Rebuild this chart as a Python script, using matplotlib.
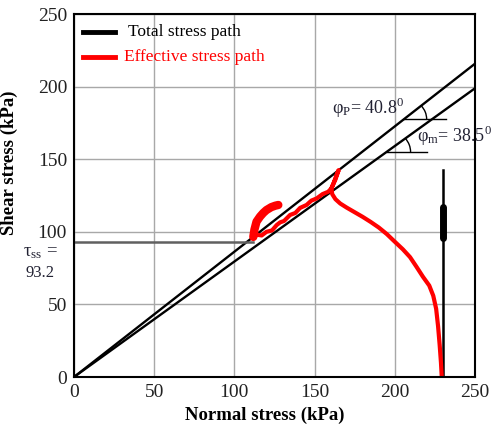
import numpy as np
import matplotlib.pyplot as plt
from matplotlib.patches import Arc

# friction angles (deg) and steady-state shear stress
phi_p = 40.8
phi_m = 38.5
tau_ss = 93.2

# effective stress path (normal stress, shear stress) in kPa
eff_sigma = [229.3, 228.8, 228.0, 227.0, 225.8, 224.0, 221.5, 217.6, 213.5, 209.5,
             205.0, 200.0, 195.0, 190.0, 185.0, 180.0, 175.0, 170.0, 166.0, 163.0,
             161.0, 160.5, 162.0, 163.5, 165.0, 163.0, 160.5, 158.5, 155.0, 151.3,
             148.0, 145.0, 141.0, 138.0, 134.7, 131.0, 128.5, 126.4, 123.5, 120.0,
             117.0, 114.0, 111.8]
eff_tau = [0, 10, 22, 35, 47, 56, 63, 69, 76, 82.6,
           88, 93.2, 98.5, 103, 106.8, 110.3, 113.5, 116.7, 119.5, 122.5,
           126, 130, 134, 138.5, 142.5, 136, 130, 127.6, 126, 123,
           121.5, 118.5, 116.5, 113, 111.6, 107.5, 106.5, 104.7, 101, 100,
           97.5, 98, 95.5]

# dense loop of the effective path at the start of shearing
loop_sigma = [111.8, 112.5, 113.8, 116.0, 118.0, 120.0, 123.0, 125.5, 127.4]
loop_tau = [96.5, 101.5, 107.0, 110.5, 113.0, 115.0, 117.0, 118.0, 118.5]

# total stress path
tot_sigma = [230, 230, 230, 230, 230]
tot_tau = [0, 60, 95, 118, 142.6]
blob_tau = [96, 117]

fig = plt.figure(figsize=(4.95, 4.26), dpi=100)
ax = fig.add_axes([0.1495, 0.115, 0.81, 0.852])
plt.rcParams['font.family'] = ['Liberation Serif', 'DejaVu Serif']

ax.set_xlim(0, 250)
ax.set_ylim(0, 250)
ax.set_xticks(range(0, 251, 50))
ax.set_yticks(range(0, 251, 50))
ax.grid(True, color='#a8a8a8', lw=1)
ax.set_axisbelow(True)
for s in ax.spines.values():
    s.set_linewidth(1.5)
ax.tick_params(length=0, labelsize=14, pad=5, labelcolor='#222222')
for lbl in ax.get_xticklabels() + ax.get_yticklabels():
    lbl.set_family('Liberation Serif')

# failure envelopes
xs = np.array([0, 250])
ax.plot(xs, xs * np.tan(np.radians(phi_p)), color='black', lw=1.7)
ax.plot(xs, xs * np.tan(np.radians(phi_m)), color='black', lw=1.7)

# steady state line
ax.plot([0, 111.5], [tau_ss, tau_ss], color='#606060', lw=1.8)

# angle markers
y1 = 177.7
x1 = y1 / np.tan(np.radians(phi_p))
ax.plot([x1, 232], [y1, y1], color='black', lw=1)
y2 = 155
x2 = y2 / np.tan(np.radians(phi_m))
ax.plot([x2, 220], [y2, y2], color='black', lw=1)
ax.add_patch(Arc((x1, y1), 28, 28, theta1=0, theta2=phi_p, color='black', lw=1))
ax.add_patch(Arc((x2, y2), 30, 30, theta1=0, theta2=phi_m, color='black', lw=1))

ax.text(161, 185, r'$\mathregular{\varphi_P}$= 40.8$^\mathregular{0}$', fontsize=13,
        color='#222233', va='center', family='Liberation Serif')
ax.text(214, 166, r'$\mathregular{\varphi_m}$= 38.5$^\mathregular{0}$', fontsize=13,
        color='#222233', va='center', family='Liberation Serif')

# stress paths
ax.plot(tot_sigma, tot_tau, color='black', lw=1.8)
ax.plot([230, 230], blob_tau, color='black', lw=5, solid_capstyle='round')
ax.plot(eff_sigma, eff_tau, color='red', lw=3)
ax.plot(loop_sigma, loop_tau, color='red', lw=6, solid_capstyle='round')

# legend
ax.plot([5.6, 25.5], [237.6, 237.6], color='black', lw=3.5)
ax.text(33.7, 237.6, 'Total stress path', fontsize=12.5, va='center', color='black')
ax.plot([5.6, 25.5], [220.4, 220.4], color='red', lw=3.5)
ax.text(31.2, 220.4, 'Effective stress path', fontsize=12.5, va='center', color='red')

# tau_ss label
ax.text(-21, 85.5, r'$\mathregular{\tau_{ss}}$ =', fontsize=13.5, color='#222233',
        ha='center', va='center', family='Liberation Serif', clip_on=False)
ax.text(-21, 71.6, '93.2', fontsize=12, color='#222233',
        ha='center', va='center', family='Liberation Serif', clip_on=False)

ax.set_xlabel('Normal stress (kPa)', fontsize=13.5, fontweight='bold',
              family='Liberation Serif')
ax.xaxis.set_label_coords(0.476, -0.083)
ax.set_ylabel('Shear stress (kPa)', fontsize=13.5, fontweight='bold',
              family='Liberation Serif')
ax.yaxis.set_label_coords(-0.14, 0.59)

fig.savefig('out.png', dpi=100)
